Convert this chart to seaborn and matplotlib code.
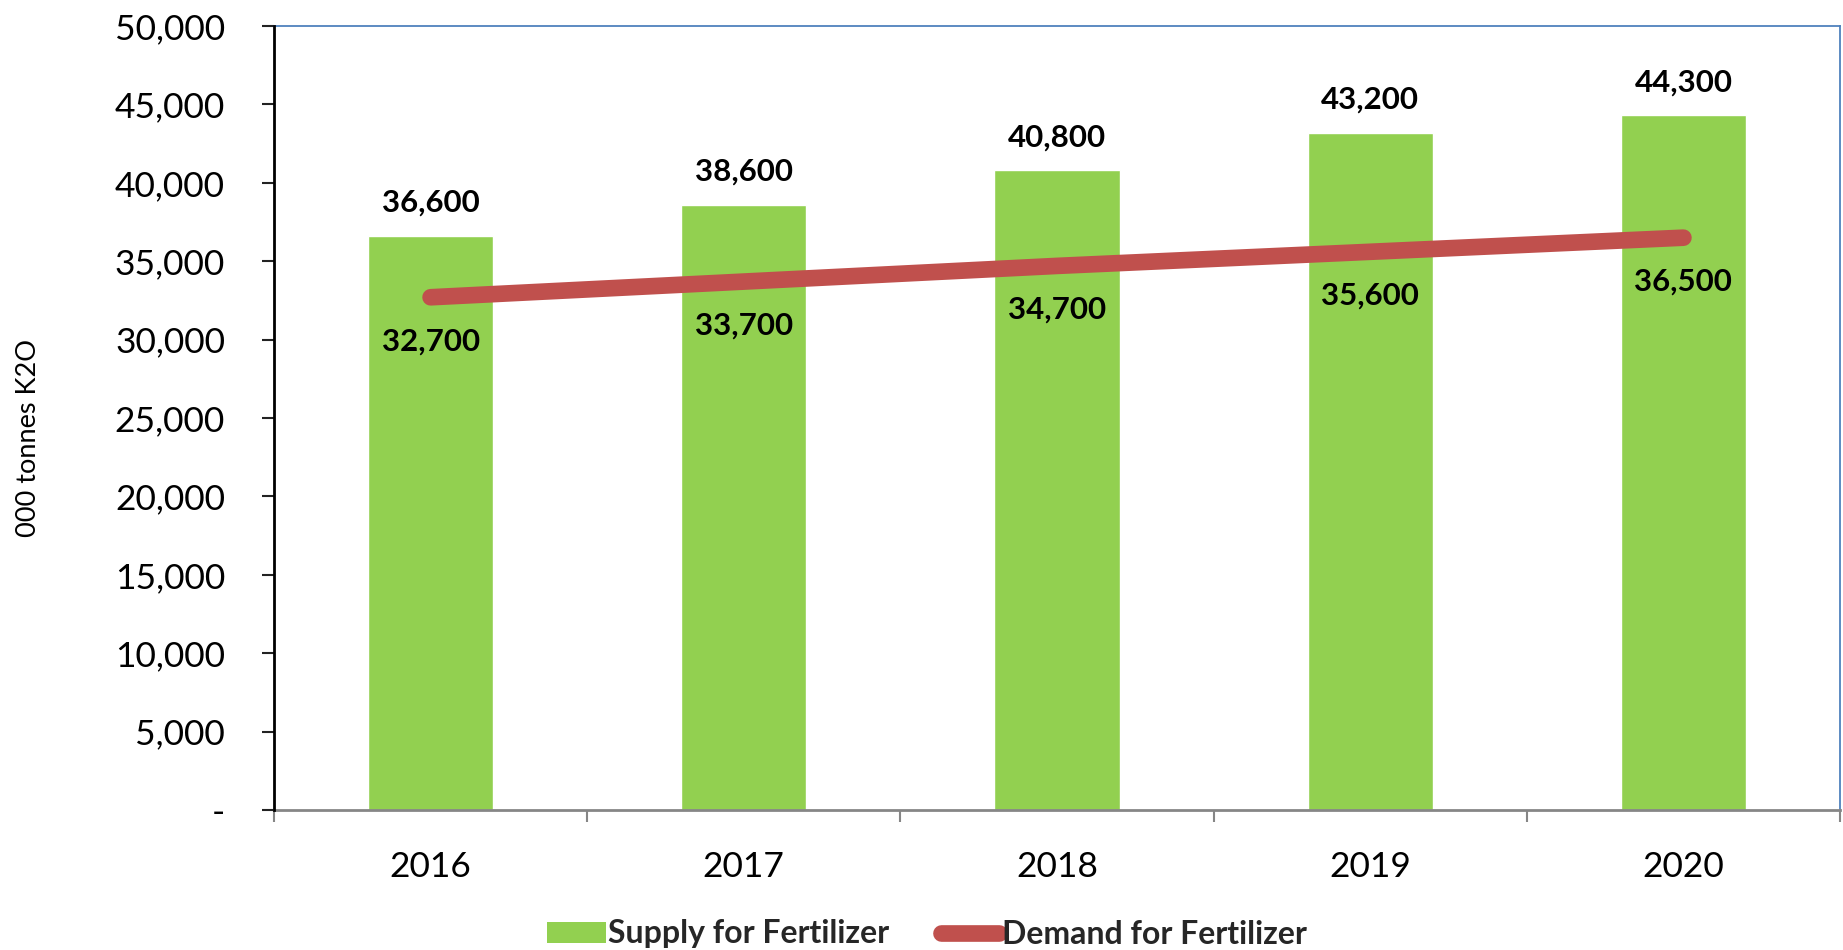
import matplotlib
matplotlib.use("Agg")
import matplotlib.pyplot as plt
import seaborn as sns
import numpy as np
from matplotlib.patches import Patch
from matplotlib.lines import Line2D
from matplotlib.ticker import FuncFormatter, MultipleLocator, FixedLocator, NullFormatter

years = ["2016", "2017", "2018", "2019", "2020"]
supply = [36600, 38600, 40800, 43200, 44300]
demand = [32700, 33700, 34700, 35600, 36500]
supply_label = "Supply for Fertilizer"
demand_label = "Demand for Fertilizer"
y_label = "000 tonnes K2O"

GREEN = "#92D050"
RED = "#C0504D"
BLUE = "#4F81BD"

sns.set_theme(style="white")
plt.rcParams["font.family"] = ["Lato", "DejaVu Sans"]

fig = plt.figure(figsize=(18.43, 9.5), dpi=100)
ax = fig.add_axes([274/1843, 1-810/950, (1840-274)/1843, (810-26)/950])

sns.barplot(x=years, y=supply, color=GREEN, width=0.4, saturation=1, ax=ax, zorder=2)
sns.pointplot(x=years, y=demand, color=RED, markers="", linewidth=12, errorbar=None, ax=ax)
for ln in ax.lines:
    ln.set_solid_capstyle("round")
    ln.set_zorder(3)

for i, v in enumerate(supply):
    ax.annotate(f"{v:,}", (i, v), xytext=(0, 23.8), textcoords="offset points",
                ha="center", va="center", fontsize=22.5, fontweight="bold", color="black")
for i, v in enumerate(demand):
    ax.annotate(f"{v:,}", (i, v), xytext=(0, -31.7), textcoords="offset points",
                ha="center", va="center", fontsize=22.5, fontweight="bold", color="black", zorder=4)

ax.set_xlim(-0.5, len(years) - 0.5)
ax.set_ylim(0, 50000)
ax.yaxis.set_major_locator(MultipleLocator(5000))
ax.yaxis.set_major_formatter(FuncFormatter(lambda v, p: "-" if v == 0 else f"{int(v):,}"))

ax.xaxis.set_minor_locator(FixedLocator(np.arange(-0.5, len(years), 1.0)))
ax.xaxis.set_minor_formatter(NullFormatter())
ax.tick_params(axis="x", which="major", length=0, pad=29.5, labelsize=25.5, labelcolor="black")
ax.tick_params(axis="x", which="minor", length=8.6, width=1.5, color="#868686", direction="out", bottom=True)
ax.tick_params(axis="y", which="major", length=8.6, width=1.5, color="#222222", direction="out",
               pad=26.6, labelsize=25.5, labelcolor="black", left=True)

ax.set_xlabel("")
ax.set_ylabel("")
fig.text(29/1843, 1-438/950, y_label, rotation=90, ha="center", va="center", fontsize=19.5, color="black")

ax.spines["left"].set_color("black")
ax.spines["left"].set_linewidth(2)
ax.spines["bottom"].set_color("#868686")
ax.spines["bottom"].set_linewidth(2)
for s in ("top", "right"):
    ax.spines[s].set_color(BLUE)
    ax.spines[s].set_linewidth(1.3)
ax.spines["left"].set_zorder(5)
ax.grid(False)

handles = [Patch(facecolor=GREEN, edgecolor="none", label=supply_label),
           Line2D([0], [0], color=RED, lw=12, solid_capstyle="round", label=demand_label)]
fig.legend(handles=handles, loc="center", bbox_to_anchor=(0.503, 1-934/950), ncol=2,
           frameon=False, prop={"weight": "bold", "size": 23}, handlelength=1.84,
           handletextpad=0.08, columnspacing=1.6, handleheight=0.65)

fig.savefig("out.png", dpi=100)
